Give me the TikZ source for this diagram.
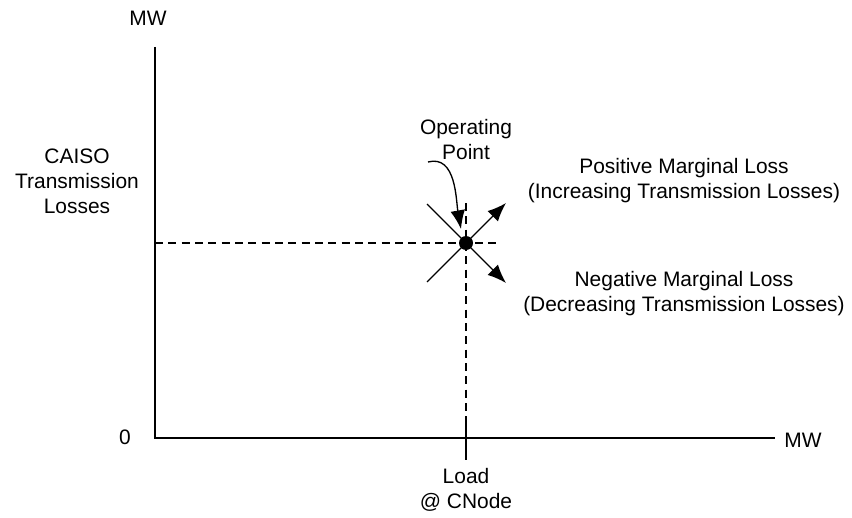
\documentclass[tikz,border=0pt]{standalone}
\usepackage{fontspec}
\setmainfont{Liberation Sans}
\usetikzlibrary{arrows.meta}
\tikzset{label/.style = {align=center, font=\fontsize{15.7}{18.75}\selectfont, inner sep=0pt}}
\tikzset{axis/.style = {line width=1pt}}
\tikzset{guide/.style = {line width=1pt, dash pattern=on 6pt off 4pt}}
\tikzset{edge/.style = {-{Latex[length=14pt,width=11pt]}, line width=1pt}}
\tikzset{dot/.style = {shape=circle, fill, minimum size=10.5pt, inner sep=0pt}}

\begin{document}
\begin{tikzpicture}[x=0.75pt,y=-0.75pt]
\useasboundingbox (0,0) rectangle (852,517);

% axes
\coordinate (o) at (155,438);
\coordinate (ytop) at (155,47);
\coordinate (xend) at (775,438);
\draw[axis] (ytop) -- (o) -- (xend);
\node[label] (ymw) at (148,18) {MW};
\node[label] (xmw) at (803,440) {MW};
\node[label] (zero) at (125,437) {0};
\node[label] (ylbl) at (77,181) {CAISO\\Transmission\\Losses};

% operating point
\node[dot] (op) at (466,243) {};
\coordinate (hl) at (155,243);
\coordinate (hr) at (501,243);
\coordinate (vt) at (466,203);
\coordinate (tick) at (466,422);
\coordinate (tickb) at (466,460);
\draw[guide] (hl) -- (hr);
\draw[guide] (vt) -- (tick);
\draw[line width=2pt] (tick) -- (tickb);
\node[label] (load) at (466,490) {Load\\@ CNode};

% directions
\coordinate (ul) at (427,204);
\coordinate (ll) at (427,282);
\coordinate (ur) at (506,203);
\coordinate (lr) at (506,283);
\draw[axis] (ul) -- (op.center) -- (ll);
\draw[edge] (op.center) -- (ur);
\draw[edge] (op.center) -- (lr);

\node[label] (optext) at (466,140) {Operating\\Point};
\draw[edge] (428,162) to[out=15,in=100] (461,229);

\node[label] (pos) at (684,181) {Positive Marginal Loss\\(Increasing Transmission Losses)};
\node[label] (neg) at (684,294) {Negative Marginal Loss\\(Decreasing Transmission Losses)};
\end{tikzpicture}
\end{document}
